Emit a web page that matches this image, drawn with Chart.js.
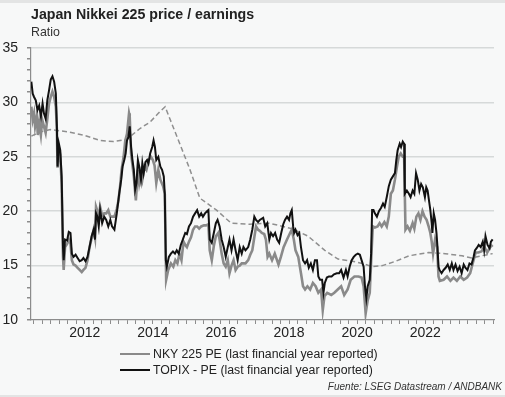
<!DOCTYPE html>
<html>
<head>
<meta charset="utf-8">
<title>Japan Nikkei 225 price / earnings</title>
<script src="https://cdn.jsdelivr.net/npm/chart.js"></script>
<style>
    html, body { margin: 0; padding: 0; }
    body { width: 505px; height: 397px; background: #f7f8f8; font-family: "Liberation Sans", Arial, sans-serif; position: relative; overflow: hidden; }
    .frame-top { position: absolute; left: 0; top: 0; width: 505px; height: 3px; background: #e3e4e4; }
    .frame-bottom { position: absolute; left: 0; bottom: 0; width: 505px; height: 2px; background: #e3e4e4; }
    #wrap { position: absolute; left: 0; top: 0; width: 505px; height: 397px; }
    .title { position: absolute; left: 31px; top: 6px; font-size: 14.2px; font-weight: bold; color: #222; }
    .subtitle { position: absolute; left: 31px; top: 25px; font-size: 12.4px; color: #333; }
    .legend { position: absolute; left: 120px; font-size: 12.3px; color: #222; line-height: 16px; }
    .legend span.swatch { display: inline-block; width: 30px; vertical-align: middle; margin-right: 3px; position: relative; top: -1px; }
    .source { position: absolute; right: 3px; top: 381px; font-size: 10px; font-style: italic; color: #333; }
</style>
</head>
<body>
<div class="frame-top"></div>
<div class="frame-bottom"></div>
<div id="wrap"><canvas id="chart" width="505" height="397"></canvas></div>
<div class="title">Japan Nikkei 225 price / earnings</div>
<div class="subtitle">Ratio</div>
<div class="legend" style="top:346px"><span class="swatch" style="border-top:2.5px solid #8a8a8a"></span>NKY 225 PE (last financial year reported)</div>
<div class="legend" style="top:362px"><span class="swatch" style="border-top:2px solid #111"></span>TOPIX - PE (last financial year reported)</div>
<div class="source">Fuente: LSEG Datastream / ANDBANK</div>
<script>
// TOPIX PE (black)
const topixT = [
    2010.43, 2010.47, 2010.51, 2010.56, 2010.61, 2010.66, 2010.71, 2010.76, 2010.80, 2010.85,
    2010.90, 2010.95, 2011.00, 2011.05, 2011.10, 2011.15, 2011.18, 2011.20, 2011.24, 2011.28,
    2011.32, 2011.36, 2011.38, 2011.42, 2011.48, 2011.53, 2011.58, 2011.62, 2011.67, 2011.73,
    2011.79, 2011.85, 2011.91, 2011.96, 2012.02, 2012.08, 2012.14, 2012.20, 2012.26, 2012.30,
    2012.33, 2012.37, 2012.41, 2012.45, 2012.51, 2012.57, 2012.63, 2012.69, 2012.75, 2012.80,
    2012.87, 2012.94, 2013.01, 2013.07, 2013.11, 2013.16, 2013.20, 2013.24, 2013.28, 2013.32,
    2013.36, 2013.40, 2013.44, 2013.48, 2013.52, 2013.56, 2013.60, 2013.65, 2013.69, 2013.73,
    2013.78, 2013.83, 2013.87, 2013.92, 2013.98, 2014.02, 2014.06, 2014.10, 2014.16, 2014.22,
    2014.27, 2014.32, 2014.35, 2014.38, 2014.41, 2014.47, 2014.53, 2014.59, 2014.65, 2014.70,
    2014.76, 2014.82, 2014.88, 2014.95, 2015.00, 2015.06, 2015.12, 2015.18, 2015.24, 2015.30,
    2015.36, 2015.42, 2015.47, 2015.53, 2015.59, 2015.63, 2015.67, 2015.73, 2015.79, 2015.85,
    2015.90, 2015.96, 2016.02, 2016.08, 2016.14, 2016.20, 2016.25, 2016.31, 2016.37, 2016.43,
    2016.49, 2016.55, 2016.61, 2016.66, 2016.72, 2016.80, 2016.86, 2016.92, 2016.98, 2017.03,
    2017.09, 2017.14, 2017.24, 2017.30, 2017.36, 2017.42, 2017.47, 2017.53, 2017.59, 2017.65,
    2017.71, 2017.77, 2017.83, 2017.88, 2017.94, 2018.00, 2018.04, 2018.08, 2018.12, 2018.15,
    2018.19, 2018.25, 2018.30, 2018.35, 2018.41, 2018.47, 2018.53, 2018.58, 2018.64, 2018.70,
    2018.76, 2018.82, 2018.86, 2018.91, 2018.97, 2019.01, 2019.05, 2019.11, 2019.17, 2019.25,
    2019.32, 2019.40, 2019.47, 2019.53, 2019.60, 2019.67, 2019.72, 2019.78, 2019.84, 2019.90,
    2019.96, 2020.02, 2020.08, 2020.13, 2020.19, 2020.23, 2020.27, 2020.31, 2020.37, 2020.41,
    2020.44, 2020.48, 2020.52, 2020.58, 2020.64, 2020.70, 2020.76, 2020.81, 2020.87, 2020.93,
    2020.99, 2021.05, 2021.11, 2021.15, 2021.19, 2021.25, 2021.29, 2021.34, 2021.38, 2021.40,
    2021.46, 2021.52, 2021.57, 2021.63, 2021.68, 2021.73, 2021.78, 2021.83, 2021.88, 2021.93,
    2021.99, 2022.03, 2022.07, 2022.11, 2022.15, 2022.19, 2022.21, 2022.25, 2022.29, 2022.33,
    2022.36, 2022.39, 2022.42, 2022.48, 2022.54, 2022.60, 2022.66, 2022.72, 2022.78, 2022.83,
    2022.89, 2022.95, 2023.01, 2023.07, 2023.13, 2023.18, 2023.24, 2023.30, 2023.36, 2023.42,
    2023.46, 2023.51, 2023.57, 2023.63, 2023.69, 2023.73, 2023.77, 2023.83, 2023.89, 2023.93,
    2023.98
];
const topixPE = [
    31.9, 30.8, 30.5, 30.2, 29.3, 29.7, 28.7, 29.9, 29.0, 28.5,
    30.2, 31.1, 32.1, 32.4, 31.9, 30.8, 27.8, 24.1, 26.2, 25.6,
    23.2, 16.7, 15.5, 17.4, 17.3, 18.1, 18.0, 16.1, 15.8, 16.0,
    15.7, 15.4, 15.5, 15.7, 15.4, 15.8, 16.7, 17.7, 18.3, 17.4,
    19.8, 19.5, 18.6, 20.1, 18.9, 19.5, 19.2, 18.6, 19.2, 18.6,
    18.3, 19.8, 21.6, 22.9, 24.1, 24.7, 25.3, 26.5, 26.8, 27.8,
    25.9, 24.7, 23.8, 22.0, 22.6, 24.7, 24.1, 22.9, 24.4, 23.5,
    24.5, 24.7, 24.4, 25.3, 25.9, 26.5, 25.9, 24.7, 25.0, 24.1,
    23.8, 23.2, 21.6, 15.5, 14.9, 15.8, 16.1, 16.3, 16.1, 16.4,
    16.1, 16.9, 17.4, 18.0, 17.9, 18.6, 18.9, 19.5, 19.8, 20.1,
    19.5, 19.8, 19.5, 19.8, 20.0, 20.1, 17.4, 17.1, 18.0, 18.9,
    19.2, 18.6, 17.4, 16.7, 15.8, 16.7, 17.4, 16.4, 17.4, 16.4,
    15.5, 16.7, 16.1, 16.7, 16.4, 16.7, 17.4, 18.3, 19.5, 19.2,
    19.0, 19.2, 19.4, 18.6, 18.9, 17.4, 18.0, 17.7, 18.0, 17.4,
    17.1, 18.0, 18.8, 19.2, 19.5, 19.2, 19.8, 20.1, 18.6, 18.0,
    18.3, 17.8, 18.0, 16.7, 15.5, 15.2, 15.5, 14.8, 15.2, 14.6,
    15.5, 15.5, 14.0, 13.7, 13.7, 12.5, 13.4, 13.9, 14.0, 14.0,
    14.2, 14.3, 14.3, 14.6, 13.9, 14.6, 14.0, 14.9, 15.5, 15.8,
    16.0, 16.1, 16.0, 15.5, 14.9, 13.1, 12.0, 13.1, 13.7, 16.1,
    20.1, 20.1, 19.8, 19.5, 20.0, 20.3, 20.7, 20.4, 21.3, 22.3,
    22.9, 23.2, 23.5, 24.7, 25.6, 26.2, 25.9, 26.4, 26.2, 21.6,
    21.9, 21.6, 21.3, 21.9, 21.6, 23.5, 22.9, 21.9, 22.5, 22.2,
    21.3, 22.2, 21.9, 21.0, 20.1, 18.9, 18.0, 19.8, 19.2, 18.0,
    16.7, 14.9, 14.6, 14.3, 14.6, 14.8, 15.1, 14.6, 15.2, 14.6,
    15.1, 14.5, 14.9, 14.3, 15.1, 14.8, 14.6, 15.2, 15.1, 15.8,
    16.4, 16.6, 16.9, 16.7, 17.2, 16.4, 17.7, 16.9, 16.6, 17.2,
    17.4
];

// NKY 225 PE (grey)
const nkyT = [
    2010.43, 2010.47, 2010.51, 2010.54, 2010.59, 2010.62, 2010.66, 2010.71, 2010.75, 2010.80,
    2010.85, 2010.90, 2010.95, 2011.00, 2011.05, 2011.10, 2011.15, 2011.18, 2011.20, 2011.24,
    2011.28, 2011.32, 2011.36, 2011.38, 2011.42, 2011.48, 2011.53, 2011.58, 2011.62, 2011.67,
    2011.73, 2011.79, 2011.85, 2011.91, 2011.96, 2012.02, 2012.08, 2012.14, 2012.20, 2012.26,
    2012.30, 2012.33, 2012.37, 2012.41, 2012.45, 2012.51, 2012.57, 2012.63, 2012.69, 2012.75,
    2012.80, 2012.87, 2012.94, 2012.99, 2013.04, 2013.08, 2013.14, 2013.19, 2013.24, 2013.30,
    2013.32, 2013.36, 2013.44, 2013.50, 2013.56, 2013.60, 2013.65, 2013.69, 2013.75, 2013.81,
    2013.88, 2013.94, 2014.00, 2014.05, 2014.10, 2014.16, 2014.22, 2014.30, 2014.35, 2014.39,
    2014.45, 2014.53, 2014.60, 2014.66, 2014.72, 2014.78, 2014.84, 2014.90, 2014.95, 2015.00,
    2015.06, 2015.12, 2015.18, 2015.24, 2015.30, 2015.36, 2015.42, 2015.50, 2015.56, 2015.63,
    2015.67, 2015.73, 2015.79, 2015.85, 2015.92, 2015.96, 2016.02, 2016.08, 2016.14, 2016.20,
    2016.25, 2016.31, 2016.37, 2016.43, 2016.49, 2016.55, 2016.61, 2016.66, 2016.72, 2016.80,
    2016.86, 2016.92, 2016.98, 2017.03, 2017.09, 2017.14, 2017.20, 2017.27, 2017.32, 2017.37,
    2017.42, 2017.50, 2017.58, 2017.69, 2017.76, 2017.84, 2017.94, 2018.03, 2018.08, 2018.14,
    2018.19, 2018.27, 2018.35, 2018.41, 2018.47, 2018.54, 2018.62, 2018.70, 2018.78, 2018.86,
    2018.94, 2018.99, 2019.04, 2019.12, 2019.24, 2019.33, 2019.43, 2019.53, 2019.62, 2019.72,
    2019.81, 2019.92, 2020.04, 2020.13, 2020.19, 2020.25, 2020.31, 2020.37, 2020.43, 2020.46,
    2020.52, 2020.60, 2020.66, 2020.72, 2020.80, 2020.87, 2020.93, 2020.99, 2021.05, 2021.11,
    2021.17, 2021.22, 2021.28, 2021.34, 2021.38, 2021.42, 2021.48, 2021.55, 2021.63, 2021.68,
    2021.74, 2021.80, 2021.86, 2021.92, 2021.98, 2022.04, 2022.10, 2022.15, 2022.19, 2022.23,
    2022.29, 2022.35, 2022.39, 2022.43, 2022.54, 2022.64, 2022.74, 2022.83, 2022.93, 2023.03,
    2023.13, 2023.23, 2023.32, 2023.42, 2023.48, 2023.56, 2023.65, 2023.74, 2023.82, 2023.91,
    2023.98
];
const nkyPE = [
    29.6, 28.4, 29.0, 27.8, 28.7, 27.0, 28.1, 27.0, 28.4, 27.8,
    27.2, 28.5, 29.9, 30.5, 31.0, 30.5, 29.6, 27.5, 24.0, 25.8,
    25.2, 22.5, 15.8, 14.6, 16.7, 17.0, 17.4, 17.0, 15.5, 15.1,
    15.0, 14.8, 14.6, 14.4, 14.6, 14.8, 15.5, 16.7, 17.5, 18.3,
    17.6, 20.4, 20.0, 19.4, 20.4, 19.6, 19.8, 19.8, 20.1, 19.5,
    19.5, 19.5, 20.2, 21.0, 22.4, 23.8, 25.0, 26.5, 27.1, 29.0,
    28.7, 25.3, 23.2, 21.0, 23.8, 22.6, 23.5, 22.9, 24.1, 23.8,
    24.7, 25.0, 24.7, 24.2, 22.6, 23.8, 22.9, 22.3, 21.6, 13.7,
    14.6, 15.2, 14.9, 15.5, 15.2, 16.1, 15.5, 17.2, 16.9, 16.7,
    17.2, 17.6, 18.3, 18.6, 18.6, 18.4, 18.6, 18.7, 18.7, 18.8,
    16.4, 15.5, 16.8, 17.7, 18.0, 17.4, 16.1, 15.2, 14.9, 15.5,
    14.3, 15.0, 15.5, 14.6, 14.9, 15.0, 15.2, 15.2, 15.2, 15.5,
    16.0, 16.4, 17.6, 18.6, 18.3, 18.2, 18.0, 17.9, 17.4, 15.8,
    16.1, 15.5, 16.1, 15.1, 15.8, 16.7, 17.4, 18.0, 18.3, 17.4,
    16.4, 15.8, 14.3, 13.1, 12.8, 13.1, 12.8, 13.4, 13.1, 12.5,
    12.8, 10.9, 12.2, 12.5, 12.3, 12.5, 12.8, 13.1, 12.3, 12.8,
    13.7, 14.0, 14.0, 13.9, 13.1, 10.6, 11.8, 12.5, 16.7, 18.6,
    18.5, 18.6, 18.9, 18.6, 19.0, 18.6, 19.5, 21.6, 21.9, 22.9,
    24.1, 25.0, 25.3, 25.0, 25.0, 18.3, 18.6, 18.2, 18.9, 18.4,
    19.5, 19.8, 19.2, 20.0, 19.5, 19.2, 18.6, 18.0, 17.2, 16.1,
    17.4, 16.7, 14.0, 13.6, 13.7, 14.0, 13.6, 13.9, 13.6, 14.0,
    13.7, 13.9, 14.3, 15.5, 16.2, 16.2, 16.3, 16.7, 16.2, 16.7,
    16.9
];

// unlabelled dashed grey line
const avgT = [
    2010.43, 2010.70, 2010.99, 2011.48, 2011.96, 2012.45, 2012.84, 2013.23, 2013.62, 2013.92,
    2014.16, 2014.36, 2014.79, 2015.08, 2015.38, 2015.87, 2016.30, 2016.84, 2017.42, 2018.08,
    2018.56, 2019.05, 2019.44, 2019.86, 2020.15, 2020.44, 2020.74, 2021.13, 2021.52, 2022.10,
    2022.59, 2023.08, 2023.37, 2023.66, 2023.98
];
const avgPE = [
    26.9, 27.3, 27.5, 27.3, 27.0, 26.5, 26.4, 26.6, 27.6, 28.2,
    29.0, 29.6, 26.2, 23.9, 21.2, 20.1, 18.9, 18.8, 18.9, 18.4,
    17.7, 16.4, 15.6, 15.4, 15.2, 14.9, 15.0, 15.4, 15.9, 16.2,
    16.1, 15.9, 15.7, 15.9, 16.1
];

// axis ticks
const xLabelYears = [2012, 2014, 2016, 2018, 2020, 2022];
const yLabelValues = [10, 15, 20, 25, 30, 35];

function toPoints(ts, vs) {
    return ts.map((t, i) => ({ x: t, y: vs[i] }));
}

const axisColor = '#8c8c8c';
const gridColor = '#d6d9d9';

new Chart(document.getElementById('chart'), {
    type: 'line',
    data: {
        datasets: [{
            label: 'TOPIX - PE (last financial year reported)',
            data: toPoints(topixT, topixPE),
            borderColor: '#111111',
            borderWidth: 2,
            order: 1
        }, {
            label: 'NKY 225 PE (last financial year reported)',
            data: toPoints(nkyT, nkyPE),
            borderColor: '#8a8a8a',
            borderWidth: 2.6,
            order: 2
        }, {
            label: 'average',
            data: toPoints(avgT, avgPE),
            borderColor: '#8f8f8f',
            borderWidth: 1.5,
            borderDash: [5, 3],
            order: 3
        }]
    },
    options: {
        responsive: false,
        animation: false,
        events: [],
        elements: { point: { radius: 0 }, line: { tension: 0 } },
        layout: { padding: { left: 0, top: 48, right: 11, bottom: 53 } },
        plugins: { legend: { display: false }, tooltip: { enabled: false } },
        scales: {
            x: {
                type: 'linear',
                min: 2010.42,
                max: 2024.02,
                afterBuildTicks: scale => {
                    const ticks = [];
                    for (let q = 2010.5; q <= 2024.001; q += 0.25) ticks.push({ value: +q.toFixed(2) });
                    scale.ticks = ticks;
                },
                afterFit: scale => { scale.height = 24; },
                border: { color: axisColor, width: 1.2 },
                grid: { drawOnChartArea: false, drawTicks: true, tickLength: 4, tickColor: axisColor },
                ticks: {
                    autoSkip: false,
                    maxRotation: 0,
                    padding: 1,
                    color: '#222',
                    font: { family: '"Liberation Sans", Arial, sans-serif', size: 14 },
                    callback: v => xLabelYears.includes(v) ? String(v) : ''
                }
            },
            y: {
                min: 10,
                max: 35,
                afterBuildTicks: scale => {
                    const ticks = [];
                    for (let v = 10; v <= 35; v++) ticks.push({ value: v });
                    scale.ticks = ticks;
                },
                afterFit: scale => { scale.width = 31; },
                border: { color: axisColor, width: 1.2 },
                grid: {
                    drawTicks: true,
                    tickLength: 4,
                    tickColor: axisColor,
                    lineWidth: 1.5,
                    color: ctx => (ctx.tick && yLabelValues.includes(ctx.tick.value) && ctx.tick.value !== 10) ? gridColor : 'rgba(0,0,0,0)'
                },
                ticks: {
                    autoSkip: false,
                    padding: 9,
                    color: '#222',
                    font: { family: '"Liberation Sans", Arial, sans-serif', size: 14 },
                    callback: v => yLabelValues.includes(v) ? String(v) : ''
                }
            }
        }
    }
});
</script>
</body>
</html>
